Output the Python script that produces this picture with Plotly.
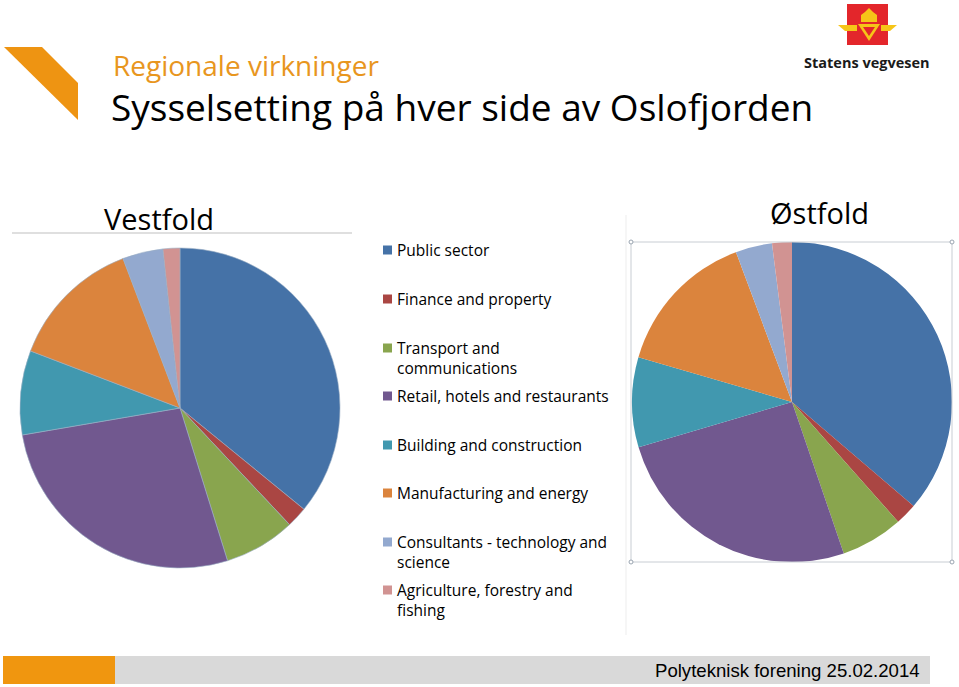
import plotly.graph_objects as go

W, H = 959, 687

categories = ["Public sector", "Finance and property", "Transport and communications",
              "Retail, hotels and restaurants", "Building and construction",
              "Manufacturing and energy", "Consultants - technology and science",
              "Agriculture, forestry and fishing"]
legend_labels = ["Public sector", "Finance and property", "Transport and<br>communications",
                 "Retail, hotels and restaurants", "Building and construction",
                 "Manufacturing and energy", "Consultants - technology and<br>science",
                 "Agriculture, forestry and<br>fishing"]
vestfold = [35.9, 2.1, 7.2, 27.1, 8.5, 13.4, 4.1, 1.7]
ostfold = [36.3, 2.2, 6.3, 25.7, 9.1, 14.8, 3.7, 2.0]
colors = ["#4572A7", "#AA4643", "#89A54E", "#71588F", "#4198AF", "#DB843D", "#93A9CF", "#D19392"]


def px(x):
    return x / W


def py(y):
    return 1 - y / H


fig = go.Figure()
fig.add_trace(go.Pie(
    labels=categories, values=vestfold, sort=False, direction="clockwise", rotation=0,
    marker=dict(colors=colors, line=dict(color="#9AAEC4", width=0.6)),
    textinfo="none", showlegend=False, name="Vestfold",
    domain=dict(x=[px(20), px(340)], y=[py(568), py(248)]),
))
fig.add_trace(go.Pie(
    labels=categories, values=ostfold, sort=False, direction="clockwise", rotation=0,
    marker=dict(colors=colors, line=dict(color="#FFFFFF", width=0)),
    textinfo="none", showlegend=False, name="Østfold",
    domain=dict(x=[px(632), px(952)], y=[py(562), py(242)]),
))

shapes = []
annotations = []

# orange corner mark
shapes.append(dict(type="path", xref="paper", yref="paper",
                   path=f"M {px(4)} {py(47)} L {px(42)} {py(47)} L {px(78)} {py(83)} L {px(78)} {py(120)} Z",
                   fillcolor="#EE9412", line=dict(width=0)))

# titles
annotations.append(dict(text="Regionale virkninger", x=px(111), y=py(65), xref="paper", yref="paper",
                        xanchor="left", yanchor="middle", showarrow=False,
                        font=dict(family="Open Sans", size=28, color="#E8961E")))
annotations.append(dict(text="Sysselsetting på hver side av Oslofjorden", x=px(109), y=py(106), xref="paper", yref="paper",
                        xanchor="left", yanchor="middle", showarrow=False,
                        font=dict(family="Open Sans", size=37, color="#000000")))

# logo
shapes.append(dict(type="rect", xref="paper", yref="paper", x0=px(847), x1=px(888), y0=py(45), y1=py(4),
                   fillcolor="#E3262B", line=dict(width=0)))
shapes.append(dict(type="path", xref="paper", yref="paper",
                   path=f"M {px(858)} {py(24)} L {px(880)} {py(24)} L {px(869)} {py(41)} Z",
                   fillcolor="#F6C518", line=dict(width=0)))
shapes.append(dict(type="path", xref="paper", yref="paper",
                   path=f"M {px(863)} {py(27)} L {px(875)} {py(27)} L {px(869)} {py(36)} Z",
                   fillcolor="#E3262B", line=dict(width=0)))
shapes.append(dict(type="path", xref="paper", yref="paper",
                   path=f"M {px(838)} {py(25)} L {px(857)} {py(25)} L {px(857)} {py(31)} L {px(845)} {py(31)} Z",
                   fillcolor="#F6C518", line=dict(width=0)))
shapes.append(dict(type="path", xref="paper", yref="paper",
                   path=f"M {px(881)} {py(25)} L {px(897)} {py(25)} L {px(890)} {py(31)} L {px(881)} {py(31)} Z",
                   fillcolor="#F6C518", line=dict(width=0)))
shapes.append(dict(type="path", xref="paper", yref="paper",
                   path=f"M {px(861)} {py(22)} L {px(877)} {py(22)} L {px(877)} {py(15)} L {px(873)} {py(12)} "
                        f"L {px(869)} {py(8)} L {px(865)} {py(12)} L {px(861)} {py(15)} Z",
                   fillcolor="#F6C518", line=dict(width=0)))
annotations.append(dict(text="<b>Statens vegvesen</b>", x=px(867), y=py(62), xref="paper", yref="paper",
                        xanchor="center", yanchor="middle", showarrow=False,
                        font=dict(family="Open Sans", size=14.5, color="#1A1A1A")))

# pie titles
annotations.append(dict(text="Vestfold", x=px(159), y=py(219), xref="paper", yref="paper",
                        xanchor="center", yanchor="middle", showarrow=False,
                        font=dict(family="Open Sans", size=29, color="#000000")))
annotations.append(dict(text="Østfold", x=px(819), y=py(212), xref="paper", yref="paper",
                        xanchor="center", yanchor="middle", showarrow=False,
                        font=dict(family="Open Sans", size=29, color="#000000")))
shapes.append(dict(type="line", xref="paper", yref="paper", x0=px(12), x1=px(352), y0=py(233), y1=py(233),
                   line=dict(color="#BFBFBF", width=1)))
shapes.append(dict(type="line", xref="paper", yref="paper", x0=px(626), x1=px(626), y0=py(215), y1=py(635),
                   line=dict(color="#EDEDED", width=1)))
# selection box around Østfold
shapes.append(dict(type="rect", xref="paper", yref="paper", x0=px(631), x1=px(952), y0=py(562), y1=py(242),
                   line=dict(color="#C8CDD3", width=1)))
for cx, cy in [(631, 242), (952, 242), (631, 562), (952, 562)]:
    shapes.append(dict(type="circle", xref="paper", yref="paper", x0=px(cx - 2), x1=px(cx + 2),
                       y0=py(cy + 2), y1=py(cy - 2), line=dict(color="#9AA5B1", width=1), fillcolor="white"))

# legend
leg_y = [250, 299, 348, 396, 445, 493, 542, 590]
for lab, col, yc in zip(legend_labels, colors, leg_y):
    shapes.append(dict(type="rect", xref="paper", yref="paper", x0=px(383), x1=px(392),
                       y0=py(yc + 4.5), y1=py(yc - 4.5), fillcolor=col, line=dict(width=0)))
    annotations.append(dict(text=lab, x=px(395), y=py(yc - 13), xref="paper", yref="paper",
                            xanchor="left", yanchor="top", align="left", showarrow=False,
                            font=dict(family="Open Sans", size=15.5, color="#000000")))

# footer
shapes.append(dict(type="rect", xref="paper", yref="paper", x0=px(3), x1=px(115), y0=py(684), y1=py(656),
                   fillcolor="#F0960F", line=dict(width=0)))
shapes.append(dict(type="rect", xref="paper", yref="paper", x0=px(115), x1=px(930), y0=py(684), y1=py(656),
                   fillcolor="#D9D9D9", line=dict(width=0)))
annotations.append(dict(text="Polyteknisk forening 25.02.2014", x=px(922), y=py(670), xref="paper", yref="paper",
                        xanchor="right", yanchor="middle", showarrow=False,
                        font=dict(family="Liberation Sans Narrow, Arial Narrow, sans-serif", size=18.6, color="#000000")))

fig.update_layout(width=W, height=H, margin=dict(l=0, r=0, t=0, b=0),
                  paper_bgcolor="white", plot_bgcolor="white",
                  shapes=shapes, annotations=annotations)

fig.write_html("out.html")
